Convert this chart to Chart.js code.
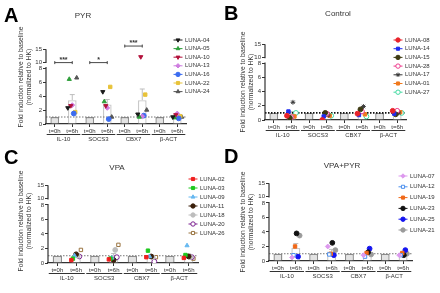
<!DOCTYPE html>
<html>
<head>
<meta charset="utf-8">
<script src="https://cdn.jsdelivr.net/npm/chart.js@4.4.0/dist/chart.umd.min.js"></script>
<style>
  body { margin: 0; background: #fff; width: 440px; height: 293px; position: relative; overflow: hidden; }
  canvas { position: absolute; }
</style>
</head>
<body>
<canvas id="panelA" width="220" height="146" style="left:0;top:0"></canvas>
<canvas id="panelB" width="220" height="146" style="left:220px;top:0"></canvas>
<canvas id="panelC" width="228" height="147" style="left:0;top:146px"></canvas>
<canvas id="panelD" width="220" height="147" style="left:220px;top:146px"></canvas>
<script>
// shared axis content
const genes = ['IL-10', 'SOCS3', 'CBX7', 'β-ACT'];
const times = ['t=0h', 't=6h'];
const yTicks = [0, 2, 4, 6, 8, 10, 15];
const baseline = 1;

// A - PYR (fold induction at t=6h, one row per patient, one value per gene)
const pyrPatients = ['LUNA-04', 'LUNA-05', 'LUNA-10', 'LUNA-13', 'LUNA-16', 'LUNA-22', 'LUNA-24'];
const pyrValues = [
  [2.3, 4.6, 1.4, 1.0],
  [6.4, 3.2, 1.0, 0.9],
  [2.6, 2.6, 12.0, 1.3],
  [2.7, 2.3, 1.1, 1.5],
  [1.5, 0.7, 1.2, 0.8],
  [1.7, 5.3, 4.2, 1.1],
  [6.6, 1.0, 2.0, 1.0]
];
const pyrMeans = [3.4, 2.8, 3.4, 1.1];
const pyrSem = [0.8, 0.7, 1.6, 0.1];
const pyrSigMarks = ['***', '*', '***', ''];
const pyrSigLevels = [9.8, 9.8, 16.2, null];

// B - Control
const ctrlPatients = ['LUNA-08', 'LUNA-14', 'LUNA-15', 'LUNA-28', 'LUNA-17', 'LUNA-01', 'LUNA-27'];
const ctrlValues = [
  [0.6, 0.0, 0.9, 1.3],
  [1.2, 0.5, 0.7, 0.9],
  [0.3, 1.0, 1.5, 0.8],
  [0.4, 0.9, 1.2, 1.3],
  [2.5, 0.7, 1.9, 1.0],
  [0.5, 0.6, 0.8, 1.1],
  [1.0, 0.6, 0.5, 1.0]
];
const ctrlMeans = [0.9, 0.6, 1.0, 1.1];
const ctrlSem = [0.3, 0.1, 0.2, 0.1];

// C - VPA
const vpaPatients = ['LUNA-02', 'LUNA-03', 'LUNA-09', 'LUNA-11', 'LUNA-18', 'LUNA-20', 'LUNA-26'];
const vpaValues = [
  [0.4, 0.5, 0.8, 0.7],
  [0.6, 0.6, 1.7, 1.1],
  [1.0, 0.7, 0.9, 2.4],
  [1.2, 0.4, 0.9, 0.9],
  [1.0, 1.8, 0.8, 0.8],
  [0.9, 0.8, 0.2, 0.8],
  [1.8, 2.5, 0.8, 0.6]
];
const vpaMeans = [1.0, 1.0, 0.9, 1.0];
const vpaSem = [0.2, 0.3, 0.2, 0.25];

// D - VPA+PYR
const comboPatients = ['LUNA-07', 'LUNA-12', 'LUNA-19', 'LUNA-23', 'LUNA-25', 'LUNA-21'];
const comboValues = [
  [0.5, 2.0, 0.8, 0.8],
  [0.8, 0.9, 0.6, 0.8],
  [2.0, 1.0, 1.1, 1.1],
  [3.8, 2.5, 1.2, 0.8],
  [0.6, 0.8, 1.7, 1.5],
  [3.5, 1.5, 0.9, 1.0]
];
const comboMeans = [1.8, 1.3, 1.0, 0.9];
const comboSem = [0.6, 0.3, 0.2, 0.15];

Chart.defaults.font.family = "'Liberation Sans', Arial, sans-serif";
Chart.defaults.color = '#333';

// y axis with a break between 8 and 10 (lower part 0-8, upper part 10-17)
const lowTop = 8, highBottom = 10, axisTop = 17;
const lowFrac = 0.70, gapFrac = 0.775;
function toFrac(v) {
  if (v <= lowTop) return v / lowTop * lowFrac;
  if (v < highBottom) return lowFrac + (v - lowTop) / (highBottom - lowTop) * (gapFrac - lowFrac);
  return gapFrac + (v - highBottom) / (axisTop - highBottom) * (1 - gapFrac);
}
function fromFrac(f) {
  if (f <= lowFrac) return f / lowFrac * lowTop;
  if (f < gapFrac) return lowTop + (f - lowFrac) / (gapFrac - lowFrac) * (highBottom - lowTop);
  return highBottom + (f - gapFrac) / (1 - gapFrac) * (axisTop - highBottom);
}
class BrokenScale extends Chart.LinearScale {
  buildTicks() { return yTicks.map(v => ({ value: v })); }
  getPixelForValue(v) { return this.getPixelForDecimal(toFrac(v)); }
  getValueForPixel(px) { return fromFrac(this.getDecimalForPixel(px)); }
}
BrokenScale.id = 'broken';
BrokenScale.defaults = Chart.LinearScale.defaults;
Chart.register(BrokenScale);

function makePanel(id, p) {
  const canvas = document.getElementById(id);
  const W = 220, H = canvas.height;
  const labels = [];
  genes.forEach(() => labels.push(...times));
  const barValues = [];
  p.means.forEach(m => barValues.push(baseline, m));
  const n = p.patients.length;

  const datasets = [{
    type: 'bar',
    data: barValues.map((v, i) => ({ x: i, y: v })),
    order: 10,
    backgroundColor: barValues.map((v, i) => i % 2 ? '#ffffff' : '#e3e3e3'),
    borderColor: barValues.map((v, i) => i % 2 ? '#c9c9c9' : '#8e8e8e'),
    borderWidth: 1.4,
    barPercentage: 0.5,
    categoryPercentage: 1
  }];
  p.patients.forEach((name, k) => {
    const shift = (k - (n - 1) / 2) * 0.085;
    datasets.push({
      type: 'scatter',
      label: name,
      order: 1,
      data: p.values[k].map((v, g) => ({ x: g * 2 + 1 + shift, y: v })),
      pointStyle: p.shapes[k],
      rotation: p.rotations[k],
      backgroundColor: p.open[k] ? '#ffffff' : p.colors[k],
      borderColor: p.colors[k],
      borderWidth: 1,
      pointRadius: 2.4
    });
  });

  const decor = {
    id: 'decor',
    afterDatasetDraw(chart, args) {
      if (args.index !== 0) return;
      const ctx = chart.ctx, xs = chart.scales.x, ys = chart.scales.y, a = chart.chartArea;
      ctx.save();
      // error bars on t=6h bars
      ctx.strokeStyle = '#bdbdbd';
      ctx.lineWidth = 1;
      p.means.forEach((m, g) => {
        const x = xs.getPixelForValue(g * 2 + 1);
        const y0 = ys.getPixelForValue(m), y1 = ys.getPixelForValue(m + p.sem[g]);
        ctx.beginPath();
        ctx.moveTo(x, y0); ctx.lineTo(x, y1);
        ctx.moveTo(x - 2.5, y1); ctx.lineTo(x + 2.5, y1);
        ctx.stroke();
      });
      // dotted line at baseline
      const yb = ys.getPixelForValue(baseline);
      ctx.setLineDash([1.5, 1.5]);
      ctx.strokeStyle = p.baseColor;
      ctx.lineWidth = p.baseWidth;
      ctx.beginPath();
      ctx.moveTo(a.left, yb); ctx.lineTo(a.right, yb);
      ctx.stroke();
      ctx.restore();
    },
    afterDraw(chart) {
      const ctx = chart.ctx, xs = chart.scales.x, ys = chart.scales.y, a = chart.chartArea;
      ctx.save();
      // broken y axis line
      ctx.strokeStyle = '#333';
      ctx.lineWidth = 1.2;
      ctx.beginPath();
      ctx.moveTo(a.left, ys.getPixelForValue(0));
      ctx.lineTo(a.left, ys.getPixelForValue(8.3));
      ctx.moveTo(a.left, ys.getPixelForValue(9.7));
      ctx.lineTo(a.left, ys.getPixelForValue(15));
      ctx.stroke();

      // gene group labels under the x axis
      const half = (xs.getPixelForValue(1) - xs.getPixelForValue(0)) * 0.46;
      ctx.lineWidth = 1;
      ctx.fillStyle = '#333';
      ctx.font = "6px 'Liberation Sans', Arial";
      ctx.textAlign = 'center';
      ctx.textBaseline = 'middle';
      genes.forEach((gname, g) => {
        const x0 = xs.getPixelForValue(g * 2) - half;
        const x1 = xs.getPixelForValue(g * 2 + 1) + half;
        const yl = a.bottom + 10.5;
        ctx.beginPath();
        ctx.moveTo(x0, yl); ctx.lineTo(x1, yl);
        ctx.stroke();
        ctx.fillText(gname, (x0 + x1) / 2, yl + 4.5);
      });

      // significance brackets
      if (p.sigMarks) {
        ctx.lineWidth = 0.9;
        p.sigMarks.forEach((mark, g) => {
          if (!mark) return;
          const x0 = xs.getPixelForValue(g * 2), x1 = xs.getPixelForValue(g * 2 + 1);
          const y = ys.getPixelForValue(p.sigLevels[g]);
          ctx.beginPath();
          ctx.moveTo(x0, y - 1.5); ctx.lineTo(x0, y + 1.5);
          ctx.moveTo(x0, y); ctx.lineTo(x1, y);
          ctx.moveTo(x1, y - 1.5); ctx.lineTo(x1, y + 1.5);
          ctx.stroke();
          ctx.font = "bold 7px 'Liberation Sans', Arial";
          ctx.fillText(mark, (x0 + x1) / 2, y - 2.5);
        });
      }

      // y axis title
      ctx.save();
      ctx.translate(p.yTitleX, p.yTitleY);
      ctx.rotate(-Math.PI / 2);
      ctx.font = "6.8px 'Liberation Sans', Arial";
      ctx.fillText('Fold induction relative to baseline', 0, 0);
      ctx.fillText('(normalized to HK)', 0, 8.5);
      ctx.restore();

      // panel title and letter
      ctx.font = "8px 'Liberation Sans', Arial";
      ctx.fillText(p.title, p.titleX, p.titleY);
      ctx.font = "bold 20px 'Liberation Sans', Arial";
      ctx.textAlign = 'left';
      ctx.textBaseline = 'alphabetic';
      ctx.fillStyle = '#000';
      ctx.fillText(p.letter, p.letterX, p.letterY);

      // legend
      ctx.font = "6px 'Liberation Sans', Arial";
      ctx.textBaseline = 'middle';
      chart.data.datasets.forEach((ds, i) => {
        if (ds.type !== 'scatter') return;
        const y = p.legTop + (i - 1) * p.legStep;
        ctx.strokeStyle = ds.borderColor;
        ctx.lineWidth = 1;
        ctx.beginPath();
        ctx.moveTo(p.legX - 4.5, y); ctx.lineTo(p.legX + 4.5, y);
        ctx.stroke();
        ctx.fillStyle = ds.backgroundColor;
        Chart.helpers.drawPoint(ctx, { pointStyle: ds.pointStyle, rotation: ds.rotation, radius: 2.2, borderWidth: 1 }, p.legX, y);
        ctx.fillStyle = '#333';
        ctx.fillText(ds.label, p.legX + 7, y);
      });
      ctx.restore();
    }
  };

  new Chart(canvas, {
    type: 'bar',
    data: { datasets: datasets },
    plugins: [decor],
    options: {
      responsive: false,
      animation: false,
      devicePixelRatio: 1,
      layout: { padding: { left: p.L - 16, right: W - p.R, top: p.T, bottom: H - p.B - 12 } },
      plugins: { legend: { display: false }, title: { display: false }, tooltip: { enabled: false } },
      scales: {
        x: {
          type: 'linear',
          offset: false,
          min: -0.5,
          max: labels.length - 0.5,
          grid: { offset: false, drawOnChartArea: false, tickLength: 3, color: '#333' },
          border: { display: true, color: '#333', width: 1.2 },
          afterBuildTicks: s => { s.ticks = labels.map((l, i) => ({ value: i })); },
          ticks: { font: { size: 6 }, padding: 1, maxRotation: 0, autoSkip: false, callback: v => labels[v] },
          afterFit: s => { s.height = 12; }
        },
        y: {
          type: 'broken',
          min: 0,
          max: axisTop,
          grid: { drawOnChartArea: false, tickLength: 3, color: '#333' },
          border: { display: false },
          ticks: { font: { size: 6 }, padding: 1, autoSkip: false, callback: v => String(v) },
          afterFit: s => { s.width = 16; }
        }
      }
    }
  });
}

makePanel('panelA', {
  patients: pyrPatients, values: pyrValues, means: pyrMeans, sem: pyrSem,
  sigMarks: pyrSigMarks, sigLevels: pyrSigLevels,
  colors: ['#1a1a1a', '#2e9e3a', '#b3123c', '#cf7ee0', '#3b6cf0', '#e8c33a', '#555555'],
  shapes: ['triangle', 'triangle', 'triangle', 'rectRot', 'circle', 'rect', 'triangle'],
  rotations: [180, 0, 180, 0, 0, 0, 0],
  open: [false, false, false, false, false, false, false],
  baseColor: '#777', baseWidth: 1,
  L: 46, R: 186, T: 44, B: 124,
  title: 'PYR', titleX: 83, titleY: 16, letter: 'A', letterX: 4, letterY: 22,
  yTitleX: 21, yTitleY: 77, legX: 178, legTop: 40, legStep: 8.6
});

makePanel('panelB', {
  patients: ctrlPatients, values: ctrlValues, means: ctrlMeans, sem: ctrlSem,
  colors: ['#e8232b', '#1f2cf0', '#3d3a12', '#ee3a8c', '#3a3a3a', '#f07a1e', '#3fd9a0'],
  shapes: ['circle', 'rect', 'circle', 'circle', 'star', 'rect', 'circle'],
  rotations: [0, 0, 0, 0, 0, 0, 0],
  open: [false, false, false, true, false, false, true],
  baseColor: '#111', baseWidth: 1.6,
  L: 45, R: 186, T: 39, B: 120,
  title: 'Control', titleX: 118, titleY: 14, letter: 'B', letterX: 4, letterY: 20,
  yTitleX: 23, yTitleY: 82, legX: 178, legTop: 40, legStep: 8.7
});

makePanel('panelC', {
  patients: vpaPatients, values: vpaValues, means: vpaMeans, sem: vpaSem,
  colors: ['#f01e1e', '#1ec81e', '#66b8f0', '#3a1f0a', '#bdbdbd', '#7a1f8f', '#9a7440'],
  shapes: ['rect', 'rect', 'triangle', 'circle', 'circle', 'circle', 'rect'],
  rotations: [0, 0, 0, 0, 0, 0, 0],
  open: [false, false, false, false, false, true, true],
  baseColor: '#777', baseWidth: 1,
  L: 48, R: 190, T: 34, B: 117,
  title: 'VPA', titleX: 117, titleY: 22, letter: 'C', letterX: 4, letterY: 18,
  yTitleX: 21, yTitleY: 75, legX: 193, legTop: 33, legStep: 9
});

makePanel('panelD', {
  patients: comboPatients, values: comboValues, means: comboMeans, sem: comboSem,
  colors: ['#dd99ee', '#4d90ee', '#f06818', '#111111', '#1414f0', '#9a9a9a'],
  shapes: ['rectRot', 'rect', 'rect', 'circle', 'circle', 'circle'],
  rotations: [0, 0, 0, 0, 0, 0],
  open: [false, true, false, false, false, false],
  baseColor: '#777', baseWidth: 1,
  L: 49, R: 192, T: 32, B: 115,
  title: 'VPA+PYR', titleX: 122, titleY: 19.5, letter: 'D', letterX: 4, letterY: 17,
  yTitleX: 23, yTitleY: 76, legX: 183, legTop: 30, legStep: 10.8
});
</script>
</body>
</html>
